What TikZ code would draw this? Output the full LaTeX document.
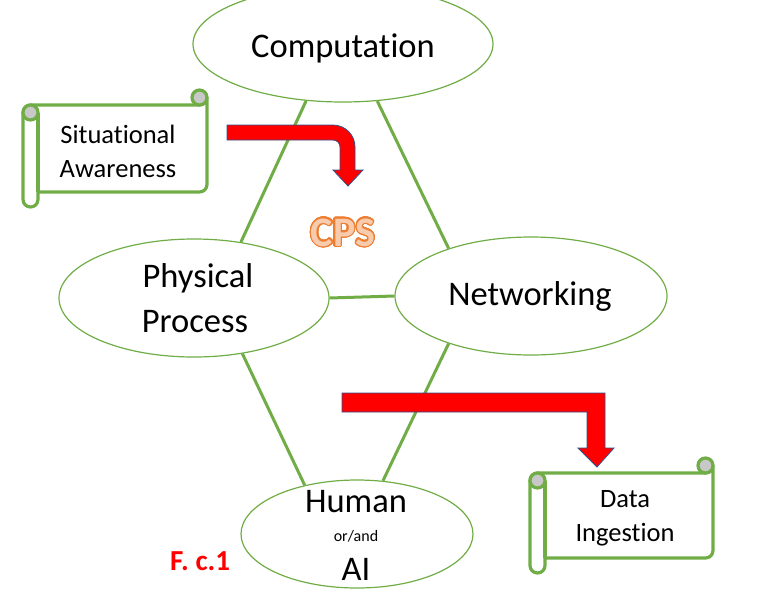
\documentclass[tikz,border=0pt]{standalone}
\usepackage{fontspec}
\setmainfont[Ligatures={NoCommon}]{Carlito}
\usepackage[copies]{contour}
\usetikzlibrary{shapes.geometric}
\definecolor{grn}{HTML}{70AD47}
\definecolor{arrowred}{HTML}{FF0000}
\definecolor{arrowedge}{HTML}{2F528F}
\definecolor{cpsorange}{HTML}{ED7D31}
\definecolor{cpsfill}{HTML}{F8CBAD}
\definecolor{curlgray}{HTML}{C8C8C8}
\contourlength{1.3pt}
\contournumber{24}
\tikzset{
  ell/.style={draw=grn, line width=1.2pt, ellipse, inner sep=0pt},
  link/.style={draw=grn, line width=3pt},
  scrollline/.style={draw=grn, line width=3.2pt, line join=round},
  bigtxt/.style={anchor=base, inner sep=0pt, font=\fontsize{34.5}{40}\selectfont},
  midtxt/.style={anchor=base, inner sep=0pt, font=\fontsize{26.5}{32}\selectfont},
  smalltxt/.style={anchor=base, inner sep=0pt, font=\fontsize{16}{18}\selectfont},
  redarrow/.style={fill=arrowred, draw=arrowedge, line width=0.8pt, line join=miter},
}
% scroll: #1=L #2=T #3=R #4=B (image coordinates, y downwards)
\newcommand\scrollshape[4]{%
  \draw[scrollline, fill=white] ({#1},{-(#2+7.5)}) arc[start angle=180,end angle=90,radius=7.5pt]
     -- ({#3-7.5},{-#2}) arc[start angle=270,end angle=360,radius=7.5pt]
     -- ({#3},{-(#4-7.5)}) arc[start angle=0,end angle=-90,radius=7.5pt]
     -- ({#1+15},{-#4}) -- ({#1+15},{-(#4+7.5)}) arc[start angle=0,end angle=-180,radius=7.5pt]
     -- cycle;
  \draw[scrollline] ({#1+15},{-(#2+7.5)}) -- ({#1+15},{-#4});
  \draw[scrollline, fill=curlgray] ({#1+7.5},{-(#2+7.5)}) circle[radius=7.5pt];
  \draw[scrollline, fill=curlgray] ({#3-7.5},{-(#2-7.5)}) circle[radius=7.5pt];
}
\begin{document}
\begin{tikzpicture}[x=1pt,y=1pt]
\useasboundingbox (0,0) rectangle (772,-590);

% ellipses
\node[ell, minimum width=300pt, minimum height=116pt] (comp) at (343,-44) {};
\node[ell, minimum width=270pt, minimum height=118pt] (phys) at (194,-298) {};
\node[ell, minimum width=272pt, minimum height=118pt] (net) at (531,-296) {};
\node[ell, minimum width=232pt, minimum height=108pt] (hum) at (357,-534) {};

% connectors
\draw[link] (comp.237) -- (phys.50);
\draw[link] (comp.301) -- (net.150);
\draw[link] (phys.east) -- (net.west);
\draw[link] (phys.311) -- (hum.137);
\draw[link] (net.210) -- (hum.64);

% texts in ellipses
\node[bigtxt] (t-comp) at (343,-57) {Computation};
\node[bigtxt] (t-phys1) at (198,-287) {Physical};
\node[bigtxt] (t-phys2) at (195,-332) {Process};
\node[bigtxt] (t-net) at (530,-305) {Networking};
\node[bigtxt] (t-hum1) at (356,-512) {Human};
\node[smalltxt] (t-hum2) at (356,-541) {or/and};
\node[bigtxt] (t-hum3) at (356,-580) {AI};

% scrolls
\scrollshape{23}{105}{207}{192}
\scrollshape{530}{473}{713}{558}
\node[midtxt] (t-sit1) at (118,-143) {Situational};
\node[midtxt] (t-sit2) at (118,-177) {Awareness};
\node[midtxt] (t-data1) at (625,-507) {Data};
\node[midtxt] (t-data2) at (625,-541) {Ingestion};

% CPS (orange outline, light fill)
\node[anchor=base, inner sep=0pt, font=\fontsize{42}{48}\selectfont\bfseries] (cps) at (343,-246)
  {\contour{cpsorange}{\textcolor{cpsfill}{CPS}}};

% figure label
\node[anchor=base west, inner sep=0pt, text=arrowred, font=\fontsize{29}{33}\selectfont\bfseries] (fig) at (170,-570) {F. c.1};

% red arrows
\draw[redarrow] (227,-125) -- (333,-125) arc[start angle=90,end angle=0,radius=22pt]
  -- (355,-170) -- (363,-170) -- (348,-186) -- (333,-170) -- (340,-170)
  -- (340,-147) arc[start angle=0,end angle=90,radius=7pt] -- (227,-140) -- cycle;
\draw[redarrow] (342,-393) -- (605,-393) -- (605,-448) -- (614,-448) -- (597,-467)
  -- (578,-448) -- (587,-448) -- (587,-412) -- (342,-412) -- cycle;
\end{tikzpicture}
\end{document}
